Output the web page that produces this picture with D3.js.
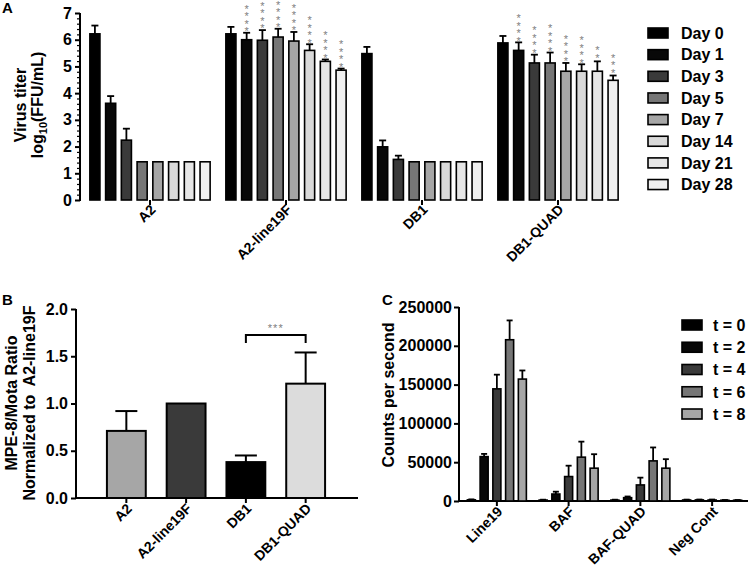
<!DOCTYPE html>
<html><head><meta charset="utf-8">
<script src="https://cdn.jsdelivr.net/npm/d3@7"></script>
<style>
body{margin:0;background:#fff;}
svg{display:block;font-family:"Liberation Sans",Arial,sans-serif;font-weight:bold;}
</style></head>
<body>
<svg id="chart" width="750" height="576"></svg>
<script>
// ---------- Panel A data ----------
const groupsA = ["A2", "A2-line19F", "DB1", "DB1-QUAD"];
const days = ["Day 0", "Day 1", "Day 3", "Day 5", "Day 7", "Day 14", "Day 21", "Day 28"];
const dayColors = ["#000000", "#080808", "#3a3a3a", "#767676", "#a6a6a6", "#d9d9d9", "#e6e6e6", "#f0f0f0"];
const titerA2 = [6.22, 3.62, 2.24, 1.43, 1.43, 1.43, 1.43, 1.43];
const titerA2Err = [0.31, 0.27, 0.43, 0, 0, 0, 0, 0];
const titerA2Line19F = [6.22, 6.0, 5.98, 6.1, 5.95, 5.6, 5.19, 4.86];
const titerA2Line19FErr = [0.26, 0.26, 0.38, 0.31, 0.34, 0.23, 0.07, 0.06];
const titerDB1 = [5.48, 1.99, 1.52, 1.43, 1.43, 1.43, 1.43, 1.43];
const titerDB1Err = [0.25, 0.24, 0.14, 0, 0, 0, 0, 0];
const titerDB1Quad = [5.88, 5.6, 5.13, 5.13, 4.82, 4.82, 4.82, 4.48];
const titerDB1QuadErr = [0.26, 0.3, 0.31, 0.39, 0.31, 0.26, 0.37, 0.18];
const starsA2 = ["", "", "", "", "", "", "", ""];
const starsA2Line19F = ["", "****", "****", "****", "****", "****", "****", "****"];
const starsDB1 = ["", "", "", "", "", "", "", ""];
const starsDB1Quad = ["", "****", "****", "****", "****", "****", "**", "***"];
const ticksA = [0, 1, 2, 3, 4, 5, 6, 7];

// ---------- Panel B data ----------
const groupsB = ["A2", "A2-line19F", "DB1", "DB1-QUAD"];
const ratioB = [0.71, 1.0, 0.38, 1.21];
const ratioBErr = [0.21, 0, 0.07, 0.33];
const colorsB = ["#a6a6a6", "#3a3a3a", "#000000", "#dcdcdc"];
const ticksB = [0, 0.5, 1.0, 1.5, 2.0];

// ---------- Panel C data ----------
const groupsC = ["Line19", "BAF", "BAF-QUAD", "Neg Cont"];
const times = ["t = 0", "t = 2", "t = 4", "t = 6", "t = 8"];
const timeColors = ["#000000", "#080808", "#3a3a3a", "#767676", "#a6a6a6"];
const cpsLine19 = [1500, 57200, 144500, 207800, 157100];
const cpsLine19Err = [600, 3500, 18300, 24900, 11100];
const cpsBAF = [1200, 9000, 31500, 56500, 42300];
const cpsBAFErr = [500, 3000, 14000, 20000, 18000];
const cpsBAFQuad = [1200, 4300, 20700, 51700, 42300];
const cpsBAFQuadErr = [500, 1500, 9400, 17300, 11600];
const cpsNeg = [1300, 1400, 1300, 1000, 1000];
const cpsNegErr = [500, 500, 600, 300, 300];
const ticksC = [0, 50000, 100000, 150000, 200000, 250000];

const svg = d3.select("#chart");
const FONT = "'Liberation Sans', Arial, sans-serif";

function styleAxis(g, size) {
  g.selectAll("text").style("font-size", size + "px").style("font-weight", "bold").style("font-family", FONT).attr("fill", "#000");
  g.selectAll("line").attr("stroke", "#000").attr("stroke-width", 2);
  g.select(".domain").remove();
}

// ================= PANEL A =================
(function () {
  const seriesA = [
    { g: groupsA[0], v: titerA2, e: titerA2Err, s: starsA2 },
    { g: groupsA[1], v: titerA2Line19F, e: titerA2Line19FErr, s: starsA2Line19F },
    { g: groupsA[2], v: titerDB1, e: titerDB1Err, s: starsDB1 },
    { g: groupsA[3], v: titerDB1Quad, e: titerDB1QuadErr, s: starsDB1Quad }
  ];
  const x0 = d3.scaleBand().domain(groupsA).range([82, 626]);
  const x1 = d3.scaleBand().domain(days).range([0, x0.bandwidth()]).paddingInner(0.36).paddingOuter(0.5);
  const y = d3.scaleLinear().domain([0, 7]).range([200, 13]);
  const color = d3.scaleOrdinal().domain(days).range(dayColors);
  const g = svg.append("g");

  // minor ticks
  const minor = d3.range(0, 7.001, 0.2).filter(d => Math.abs(d - Math.round(d)) > 0.01);
  g.append("g").attr("transform", "translate(80,0)")
    .call(d3.axisLeft(y).tickValues(minor).tickSize(3).tickFormat(""))
    .call(a => { a.select(".domain").remove(); a.selectAll("line").attr("stroke", "#000").attr("stroke-width", 1.2); });
  const ay = g.append("g").attr("transform", "translate(80,0)")
    .call(d3.axisLeft(y).tickValues(ticksA).tickSize(5).tickPadding(3).tickFormat(d3.format("d")));
  styleAxis(ay, 16);
  g.append("line").attr("x1", 80).attr("x2", 80).attr("y1", y(7)).attr("y2", y(0) + 1).attr("stroke", "#000").attr("stroke-width", 2);

  const ax = g.append("g").attr("transform", "translate(0,200)")
    .call(d3.axisBottom(x0).tickSize(5).tickSizeOuter(0));
  styleAxis(ax, 14);
  ax.selectAll("text").attr("text-anchor", "end").attr("dy", "0.35em")
    .attr("transform", "translate(3,7) rotate(-45)").attr("y", 0).attr("x", 0);

  seriesA.forEach(sr => {
    const gg = g.append("g").attr("transform", `translate(${x0(sr.g)},0)`);
    const data = days.map((d, i) => ({ d, v: sr.v[i], e: sr.e[i], s: sr.s[i] }));
    gg.selectAll("rect").data(data).join("rect")
      .attr("x", d => x1(d.d)).attr("width", x1.bandwidth())
      .attr("y", d => y(d.v)).attr("height", d => y(0) - y(d.v))
      .attr("fill", d => color(d.d)).attr("stroke", "#000").attr("stroke-width", 1.6);
    const eb = data.filter(d => d.e > 0);
    gg.selectAll("line.ev").data(eb).join("line").attr("class", "ev")
      .attr("x1", d => x1(d.d) + x1.bandwidth() / 2).attr("x2", d => x1(d.d) + x1.bandwidth() / 2)
      .attr("y1", d => y(d.v)).attr("y2", d => y(d.v + d.e)).attr("stroke", "#000").attr("stroke-width", 1.8);
    gg.selectAll("line.ec").data(eb).join("line").attr("class", "ec")
      .attr("x1", d => x1(d.d) + x1.bandwidth() / 2 - 3.5).attr("x2", d => x1(d.d) + x1.bandwidth() / 2 + 3.5)
      .attr("y1", d => y(d.v + d.e)).attr("y2", d => y(d.v + d.e)).attr("stroke", "#000").attr("stroke-width", 1.8);
    // stacked significance stars: one vertical text run per bar
    const fs = 11, pitch = 6.5;
    gg.selectAll("text.star").data(data.filter(d => d.s.length > 0)).join("text").attr("class", "star")
      .attr("x", d => x1(d.d) + x1.bandwidth() / 2)
      .attr("y", d => y(d.v + d.e) - 7 - (d.s.length - 1) * pitch - 0.335 * fs)
      .attr("fill", "#808080")
      .style("font-size", fs + "px").style("font-weight", "normal")
      .style("writing-mode", "vertical-rl").style("text-orientation", "upright")
      .style("letter-spacing", (pitch - fs) + "px")
      .text(d => d.s);
  });

  // legend
  const lg = g.append("g");
  days.forEach((d, i) => {
    const cy = 33 + i * 21.65;
    lg.append("rect").attr("x", 648).attr("y", cy - 5).attr("width", 20).attr("height", 10)
      .attr("fill", color(d)).attr("stroke", "#000").attr("stroke-width", 1.6);
    lg.append("text").attr("x", 681).attr("y", cy).attr("dy", "0.36em")
      .style("font-size", "16px").text(d);
  });

  // y label
  const yl = g.append("text").attr("transform", "translate(26,105) rotate(-90)").attr("text-anchor", "middle")
    .style("font-size", "16px");
  yl.append("tspan").attr("x", 0).attr("dy", 0).text("Virus titer");
  const t2 = yl.append("tspan").attr("x", 0).attr("dy", 17).text("log");
  t2.append("tspan").attr("dy", 4).style("font-size", "11px").text("10");
  t2.append("tspan").attr("dy", -4).text("(FFU/mL)");

  g.append("text").attr("x", 2).attr("y", 13).style("font-size", "15px").text("A");
})();

// ================= PANEL B =================
(function () {
  const x = d3.scaleBand().domain(groupsB).range([86, 346]).padding(0.35);
  const y = d3.scaleLinear().domain([0, 2]).range([498, 309]);
  const g = svg.append("g");
  const data = groupsB.map((d, i) => ({ d, v: ratioB[i], e: ratioBErr[i], c: colorsB[i] }));

  const ay = g.append("g").attr("transform", "translate(76,0)")
    .call(d3.axisLeft(y).tickValues(ticksB).tickSize(5).tickPadding(3).tickFormat(d3.format(".1f")));
  styleAxis(ay, 16);
  g.append("line").attr("x1", 76).attr("x2", 76).attr("y1", y(2)).attr("y2", y(0) + 1).attr("stroke", "#000").attr("stroke-width", 2);
  const ax = g.append("g").attr("transform", "translate(0,498)")
    .call(d3.axisBottom(x).tickSize(5).tickSizeOuter(0));
  styleAxis(ax, 14);
  ax.selectAll("text").attr("text-anchor", "end").attr("dy", "0.35em")
    .attr("transform", "translate(3,8) rotate(-45)").attr("y", 0).attr("x", 0);
  g.append("line").attr("x1", 75).attr("x2", 358).attr("y1", 498).attr("y2", 498).attr("stroke", "#000").attr("stroke-width", 2);

  g.selectAll("rect.bar").data(data).join("rect").attr("class", "bar")
    .attr("x", d => x(d.d)).attr("width", x.bandwidth())
    .attr("y", d => y(d.v)).attr("height", d => y(0) - y(d.v))
    .attr("fill", d => d.c).attr("stroke", "#000").attr("stroke-width", 2);
  const eb = data.filter(d => d.e > 0);
  g.selectAll("line.ev").data(eb).join("line").attr("class", "ev")
    .attr("x1", d => x(d.d) + x.bandwidth() / 2).attr("x2", d => x(d.d) + x.bandwidth() / 2)
    .attr("y1", d => y(d.v)).attr("y2", d => y(d.v + d.e)).attr("stroke", "#000").attr("stroke-width", 2);
  g.selectAll("line.ec").data(eb).join("line").attr("class", "ec")
    .attr("x1", d => x(d.d) + x.bandwidth() / 2 - 11).attr("x2", d => x(d.d) + x.bandwidth() / 2 + 11)
    .attr("y1", d => y(d.v + d.e)).attr("y2", d => y(d.v + d.e)).attr("stroke", "#000").attr("stroke-width", 2);

  // significance bracket
  const bx1 = x("DB1") + x.bandwidth() / 2, bx2 = x("DB1-QUAD") + x.bandwidth() / 2;
  g.append("path").attr("d", `M${bx1},343V335H${bx2}V343`).attr("fill", "none").attr("stroke", "#000").attr("stroke-width", 2);
  g.append("text").attr("x", (bx1 + bx2) / 2).attr("y", 332).attr("text-anchor", "middle")
    .attr("fill", "#808080").style("font-size", "11px").style("font-weight", "normal").style("letter-spacing", "1px").text("***");

  const yl = g.append("text").attr("transform", "translate(17,403) rotate(-90)").attr("text-anchor", "middle")
    .style("font-size", "16px");
  yl.append("tspan").attr("x", 0).attr("dy", 0).text("MPE-8/Mota Ratio");
  yl.append("tspan").attr("x", 0).attr("dy", 18).attr("xml:space", "preserve").style("white-space", "pre").text("Normalized to  A2-line19F");

  g.append("text").attr("x", 2).attr("y", 305).style("font-size", "15px").text("B");
})();

// ================= PANEL C =================
(function () {
  const seriesC = [
    { g: groupsC[0], v: cpsLine19, e: cpsLine19Err },
    { g: groupsC[1], v: cpsBAF, e: cpsBAFErr },
    { g: groupsC[2], v: cpsBAFQuad, e: cpsBAFQuadErr },
    { g: groupsC[3], v: cpsNeg, e: cpsNegErr }
  ];
  const x0 = d3.scaleBand().domain(groupsC).range([461, 748]);
  const x1 = d3.scaleBand().domain(times).range([0, x0.bandwidth()]).paddingInner(0.37).paddingOuter(0.5);
  const y = d3.scaleLinear().domain([0, 250000]).range([501, 307]);
  const color = d3.scaleOrdinal().domain(times).range(timeColors);
  const g = svg.append("g");

  const ay = g.append("g").attr("transform", "translate(459,0)")
    .call(d3.axisLeft(y).tickValues(ticksC).tickSize(5).tickPadding(2).tickFormat(d3.format("d")));
  styleAxis(ay, 16);
  g.append("line").attr("x1", 459).attr("x2", 459).attr("y1", y(250000)).attr("y2", y(0) + 1).attr("stroke", "#000").attr("stroke-width", 2);
  const ax = g.append("g").attr("transform", "translate(0,501)")
    .call(d3.axisBottom(x0).tickSize(5).tickSizeOuter(0));
  styleAxis(ax, 14);
  ax.selectAll("text").attr("text-anchor", "end").attr("dy", "0.35em")
    .attr("transform", "translate(3,8) rotate(-45)").attr("y", 0).attr("x", 0);
  g.append("line").attr("x1", 458).attr("x2", 748).attr("y1", 501).attr("y2", 501).attr("stroke", "#000").attr("stroke-width", 2);

  seriesC.forEach(sr => {
    const gg = g.append("g").attr("transform", `translate(${x0(sr.g)},0)`);
    const data = times.map((d, i) => ({ d, v: sr.v[i], e: sr.e[i] }));
    gg.selectAll("rect").data(data).join("rect")
      .attr("x", d => x1(d.d)).attr("width", x1.bandwidth())
      .attr("y", d => y(d.v)).attr("height", d => y(0) - y(d.v))
      .attr("fill", d => color(d.d)).attr("stroke", "#000").attr("stroke-width", 1.6);
    gg.selectAll("line.ev").data(data).join("line").attr("class", "ev")
      .attr("x1", d => x1(d.d) + x1.bandwidth() / 2).attr("x2", d => x1(d.d) + x1.bandwidth() / 2)
      .attr("y1", d => y(d.v)).attr("y2", d => y(d.v + d.e)).attr("stroke", "#000").attr("stroke-width", 1.8);
    gg.selectAll("line.ec").data(data).join("line").attr("class", "ec")
      .attr("x1", d => x1(d.d) + x1.bandwidth() / 2 - 3).attr("x2", d => x1(d.d) + x1.bandwidth() / 2 + 3)
      .attr("y1", d => y(d.v + d.e)).attr("y2", d => y(d.v + d.e)).attr("stroke", "#000").attr("stroke-width", 1.8);
  });

  const lg = g.append("g");
  times.forEach((d, i) => {
    const cy = 325 + i * 22.25;
    lg.append("rect").attr("x", 682).attr("y", cy - 5).attr("width", 20).attr("height", 10)
      .attr("fill", color(d)).attr("stroke", "#000").attr("stroke-width", 1.6);
    lg.append("text").attr("x", 713).attr("y", cy).attr("dy", "0.36em")
      .style("font-size", "16px").text(d);
  });

  g.append("text").attr("transform", "translate(394,395) rotate(-90)").attr("text-anchor", "middle")
    .style("font-size", "16px").text("Counts per second");

  g.append("text").attr("x", 382).attr("y", 305).style("font-size", "15px").text("C");
})();
</script>
</body></html>
